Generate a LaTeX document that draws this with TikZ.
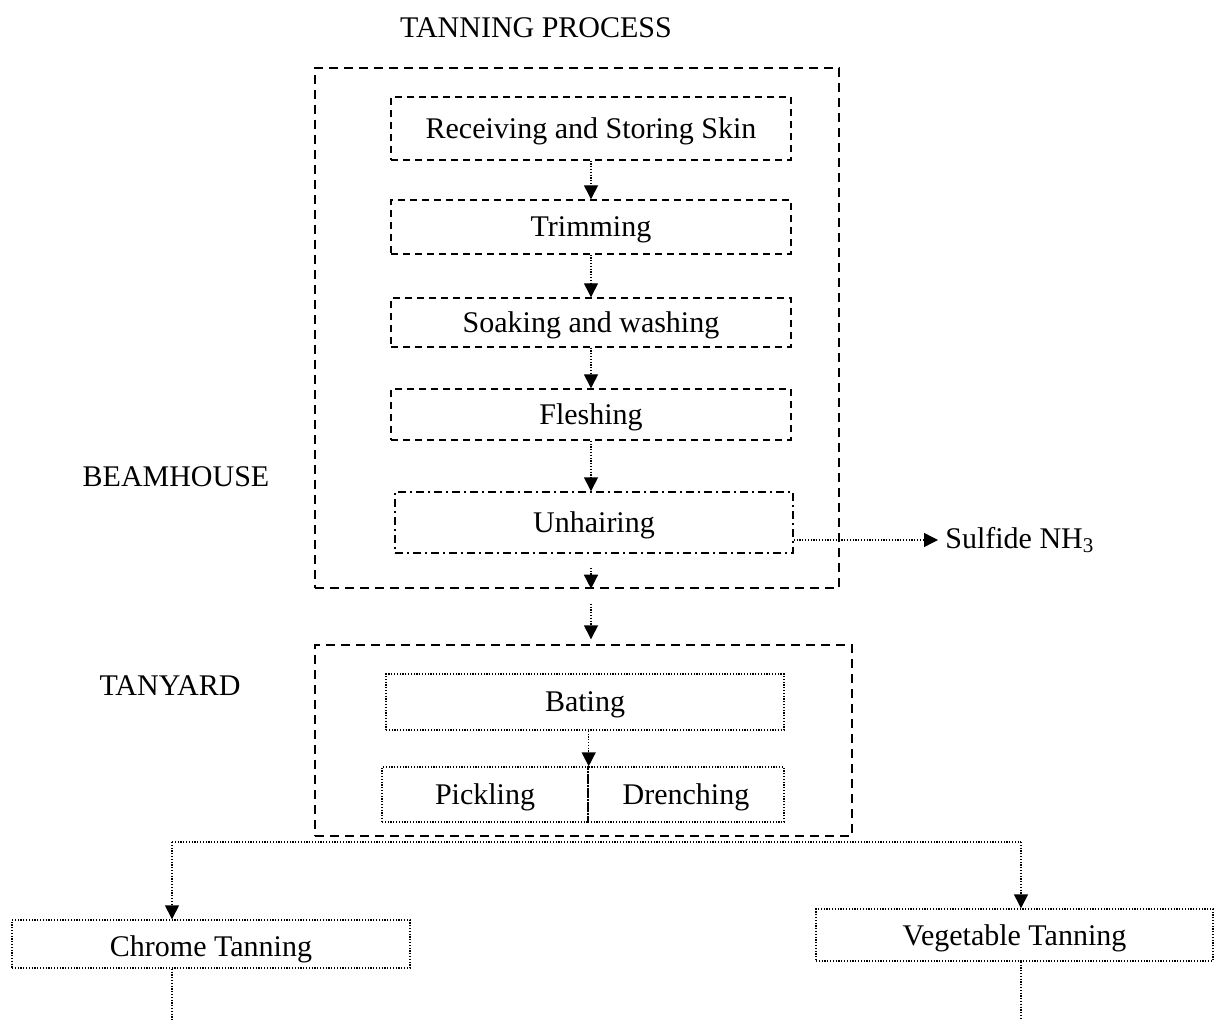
\documentclass[tikz,border=0pt]{standalone}
\usepackage{fontspec}
\setmainfont{Liberation Serif}
\usetikzlibrary{arrows.meta}

\begin{document}
\begin{tikzpicture}[
    x=0.5pt, y=-0.5pt,
    font=\fontsize{15}{18}\selectfont,
    line width=0.7pt,
    group_box/.style={draw, dash pattern=on 4.5pt off 3pt, inner sep=0pt},
    stage_box/.style={draw, dash pattern=on 3.5pt off 2.5pt, inner sep=0pt, text depth=0pt, minimum width=200pt},
    hair_box/.style={draw, dash pattern=on 4pt off 2pt on 1pt off 2pt, inner sep=0pt, text depth=0pt, minimum width=199pt},
    dot_box/.style={draw, dash pattern=on 0.6pt off 0.8pt, inner sep=0pt, text depth=0pt},
    dot_line/.style={dash pattern=on 0.6pt off 0.8pt},
    flow/.style={dot_line, -{Triangle[length=7pt, width=7pt]}},
    side_label/.style={font=\fontsize{15}{18}\selectfont}
]
\useasboundingbox (0,0) rectangle (1220,1021);

% Title and side labels
\node[side_label] (title) at (536,28) {TANNING PROCESS};
\node[side_label] (beamlabel) at (176,477) {BEAMHOUSE};
\node[side_label] (tanlabel) at (170,686) {TANYARD};

% Beamhouse
\node[group_box, minimum width=262pt, minimum height=260pt] (beam) at (577,328) {};
\node[stage_box, minimum height=31.5pt] (recv) at (591,128.5) {Receiving and Storing Skin};
\node[stage_box, minimum height=27pt] (trim) at (591,227) {Trimming};
\node[stage_box, minimum height=24.5pt, text height=2.2ex] (soak) at (591,322.5) {Soaking and washing};
\node[stage_box, minimum height=25.5pt] (flesh) at (591,414.5) {Fleshing};
\node[hair_box, minimum height=30.5pt] (unhair) at (594,522.5) {Unhairing};
\node[anchor=west] (sulfide) at (938,540) {Sulfide NH\textsubscript{3}};

\draw[flow] (recv.south) -- (trim.north);
\draw[flow] (trim.south) -- (soak.north);
\draw[flow] (soak.south) -- (flesh.north);
\draw[flow] (flesh.south) -- (flesh.south |- unhair.north);
\draw[flow, shorten <=7pt] (flesh.south |- unhair.south) -- (flesh.south |- beam.south);
\draw[flow] (unhair.east |- sulfide.west) -- (sulfide.west);

% Tanyard
\node[group_box, minimum width=268.5pt, minimum height=95.5pt] (tan) at (583.5,740.5) {};
\node[dot_box, minimum width=199pt, minimum height=28pt] (bating) at (585,702) {Bating};
\node[dot_box, minimum width=103pt, minimum height=27.5pt] (pickling) at (485,794.5) {Pickling};
\node[dot_box, minimum width=98pt, minimum height=27.5pt] (drenching) at (686,794.5) {Drenching};

\draw[flow, shorten <=7.5pt, shorten >=2.5pt] (flesh.south |- beam.south) -- (flesh.south |- tan.north);
\draw[flow] (pickling.north east |- bating.south) -- (pickling.north east);

% Tanning branches
\node[dot_box, minimum width=199pt, minimum height=24pt, text height=2.8ex] (chrome) at (211,944) {Chrome Tanning};
\node[dot_box, minimum width=198.5pt, minimum height=26pt] (veg) at (1014.5,935) {Vegetable Tanning};

\coordinate (brL) at (172,842);
\coordinate (brR) at (1021,842);
\draw[dot_line] (brL) -- (brR);
\draw[flow] (brL) -- (brL |- chrome.north);
\draw[flow] (brR) -- (brR |- veg.north);
\draw[dot_line] (brL |- chrome.south) -- (172,1021);
\draw[dot_line] (brR |- veg.south) -- (1021,1021);

\end{tikzpicture}
\end{document}
